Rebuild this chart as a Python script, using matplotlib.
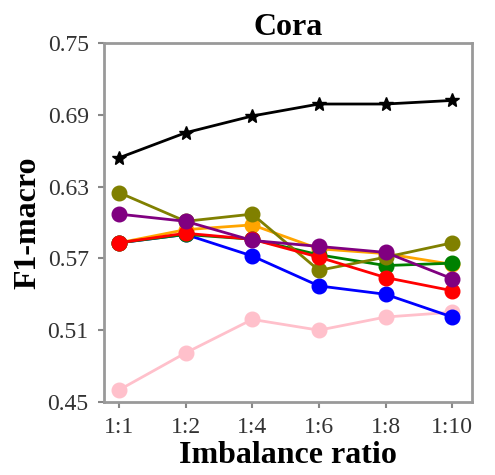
import matplotlib.pyplot as plt

# data
ratios = ['1:1', '1:2', '1:4', '1:6', '1:8', '1:10']
yticks = [0.45, 0.51, 0.57, 0.63, 0.69, 0.75]

pink   = [0.460, 0.491, 0.519, 0.510, 0.521, 0.525]
blue   = [0.583, 0.590, 0.572, 0.547, 0.540, 0.521]
orange = [0.583, 0.594, 0.598, 0.578, 0.574, 0.565]
green  = [0.583, 0.590, 0.586, 0.573, 0.564, 0.566]
olive  = [0.625, 0.601, 0.607, 0.560, 0.571, 0.583]
red    = [0.583, 0.591, 0.586, 0.571, 0.554, 0.543]
purple = [0.607, 0.601, 0.585, 0.580, 0.575, 0.553]
black  = [0.654, 0.675, 0.689, 0.699, 0.699, 0.702]

plt.rcParams['font.family'] = ['Liberation Serif', 'DejaVu Serif']

fig = plt.figure(figsize=(4.95, 4.75), dpi=100)
ax = fig.add_axes([0.210, 0.1537, 0.744, 0.7558])

x = list(range(len(ratios)))
series = [
    (pink, 'pink'),
    (blue, 'blue'),
    (orange, 'orange'),
    (green, 'green'),
    (olive, 'olive'),
    (red, 'red'),
    (purple, 'purple'),
]
for vals, col in series:
    ax.plot(x, vals, color=col, marker='o', markersize=10.5, linewidth=2)

ax.plot(x, black, color='black', marker='*', markersize=10, linewidth=2)

ax.set_xlim(-0.225, 5.3)
ax.set_ylim(0.45, 0.75)
ax.set_xticks(x)
ax.set_xticklabels(ratios)
ax.set_yticks(yticks)
ax.set_yticklabels([f'{v:.2f}' for v in yticks])
ax.tick_params(labelsize=17, colors='#888888', labelcolor='#333333',
               width=1.5, length=4, pad=7)

for sp in ax.spines.values():
    sp.set_color('#999999')
    sp.set_linewidth(2)

ax.set_title('Cora', fontsize=23, fontweight='bold', pad=6)
ax.set_xlabel('Imbalance ratio', fontsize=23, fontweight='bold', labelpad=2)
ax.set_ylabel('F1-macro', fontsize=23, fontweight='bold', labelpad=4)

fig.savefig('out.png', dpi=100)
